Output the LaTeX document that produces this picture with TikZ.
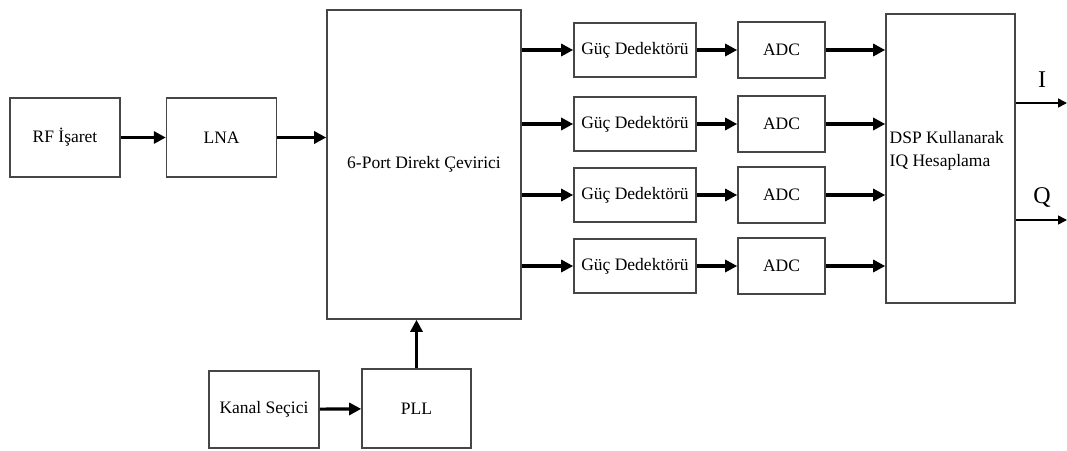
\documentclass[tikz,border=0pt]{standalone}
\usepackage{fontspec}
\setmainfont{Liberation Serif}
\usepackage{xcolor}
\usepackage{tikz}
\usetikzlibrary{positioning,arrows.meta}
\definecolor{boxline}{RGB}{70,70,70}

\begin{document}
\begin{tikzpicture}[x=1pt, y=1pt, node distance=45pt,
  every node/.style={font=\fontsize{17.5}{23}\selectfont},
  blk/.style={draw=boxline, line width=1.6pt, inner sep=0pt},
  sig/.style={line width=3.2pt, -{Triangle[length=12pt,width=12pt]}},
  outsig/.style={line width=1.6pt, -{Triangle[length=9pt,width=9pt]}}]
\useasboundingbox (0,0) rectangle (1067,-450);
\node[blk, minimum width=110pt, minimum height=79pt] (rf) at (65,-137.5) {RF İşaret};
\node[blk, minimum width=110pt, minimum height=79pt, right=45pt of rf] (lna) {LNA};
\node[blk, minimum width=194pt, minimum height=309pt] (port) at (424,-164.5) {6-Port Direkt Çevirici};
\node[blk, minimum width=129pt, minimum height=289pt] (dsp) at (950.5,-158.5) {};
\node[anchor=west, align=left] (dsptxt) at ([shift={(1pt,8pt)}]dsp.west) {DSP Kullanarak\\IQ Hesaplama};
% detector / adc rows
\foreach \i/\y in {1/50,2/124,3/195,4/266} {
  \node[blk, minimum width=122pt, minimum height=54pt] (det\i) at (635,-\y) {Güç Dedektörü};
  \node[blk, minimum width=87pt, minimum height=56pt] (adc\i) at (781.5,-\y) {ADC};
  \draw[sig] (port.east |- det\i) -- (det\i.west);
  \draw[sig] (det\i.east) -- (adc\i.west);
  \draw[sig] (adc\i.east) -- (dsp.west |- adc\i);
}
\node[blk, minimum width=110pt, minimum height=77pt] (kanal) at (264,-409.5) {Kanal Seçici};
\node[blk, minimum width=109pt, minimum height=79pt] (pll) at (416.5,-408.5) {PLL};
\coordinate (iout) at (1067,-103);
\coordinate (qout) at (1067,-220);
\node[font=\fontsize{24}{28}\selectfont] (ilbl) at (1042,-80) {I};
\node[font=\fontsize{24}{28}\selectfont] (qlbl) at (1042,-197) {Q};
\draw[sig] (rf) -- (lna);
\draw[sig] (lna.east) -- (lna.east -| port.west);
\draw[sig] (kanal) -- (pll);
\draw[sig] (pll.north) -- (pll.north |- port.south);
\draw[outsig] (dsp.east |- iout) -- (iout);
\draw[outsig] (dsp.east |- qout) -- (qout);
\end{tikzpicture}
\end{document}
